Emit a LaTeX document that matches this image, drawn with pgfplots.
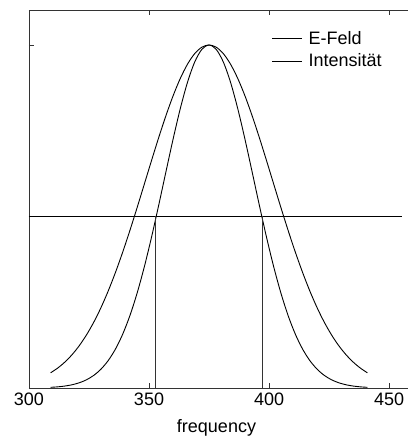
\documentclass[border=0pt]{standalone}
\usepackage{fontspec}
\setmainfont{Liberation Sans}
\usepackage{pgfplots}
\pgfplotsset{compat=1.18}
\begin{document}
\begin{tikzpicture}[x=1pt,y=1pt]
\begin{axis}[
  at={(0,0)}, anchor=origin,
  scale only axis, width=379pt, height=378pt,
  xmin=300, xmax=457.9, ymin=0, ymax=1.102,
  axis y line*=left,
  xtick={300,350,400,450}, ytick={0.5,1}, yticklabels={},
  xtick pos=both, ytick pos=left,
  tick align=inside, major tick length=5pt,
  axis line style={draw=black!80, line width=0.9pt, -},
  every tick/.style={black!80, line width=0.9pt},
  /pgf/number format/assume math mode=true,
  tick label style={font=\fontsize{18}{20}\selectfont},
  xticklabel style={yshift=-1pt},
  xlabel={frequency},
  label style={font=\fontsize{18}{20}\selectfont},
  xlabel style={yshift=-7pt, xshift=-2pt},
  legend style={draw=none, fill=none, at={(rel axis cs:0.632,0.955)}, anchor=north west,
    font=\fontsize{18}{20}\selectfont, row sep=4pt, column sep=4pt},
  legend cell align=left,
  legend image code/.code={\draw[#1] (0pt,0pt) -- (30pt,0pt);},
]
\addplot[black, line width=0.9pt, smooth] coordinates {
(309,0.04419)(312,0.05831)(315,0.07597)(318,0.09764)(321,0.12394)(324,0.15528)(327,0.19208)(330,0.23457)(333,0.28281)(336,0.33656)(339,0.39535)(342,0.45850)(345,0.52495)(348,0.59334)(351,0.66204)(354,0.72924)(357,0.79294)(360,0.85119)(363,0.90203)(366,0.94365)(369,0.97455)(372,0.99358)(375,1.00000)(378,0.99358)(381,0.97455)(384,0.94365)(387,0.90203)(390,0.85119)(393,0.79294)(396,0.72924)(399,0.66204)(402,0.59334)(405,0.52495)(408,0.45850)(411,0.39535)(414,0.33656)(417,0.28281)(420,0.23457)(423,0.19208)(426,0.15528)(429,0.12394)(432,0.09764)(435,0.07597)(438,0.05831)(441,0.04419)
};
\addlegendentry{E-Feld}
\addplot[black, line width=0.9pt, smooth] coordinates {
(309,0.00195)(312,0.00340)(315,0.00577)(318,0.00953)(321,0.01536)(324,0.02411)(327,0.03689)(330,0.05502)(333,0.07998)(336,0.11327)(339,0.15630)(342,0.21022)(345,0.27557)(348,0.35205)(351,0.43828)(354,0.53178)(357,0.62876)(360,0.72453)(363,0.81365)(366,0.89047)(369,0.94975)(372,0.98719)(375,1.00000)(378,0.98719)(381,0.94975)(384,0.89047)(387,0.81365)(390,0.72453)(393,0.62876)(396,0.53178)(399,0.43828)(402,0.35205)(405,0.27557)(408,0.21022)(411,0.15630)(414,0.11327)(417,0.07998)(420,0.05502)(423,0.03689)(426,0.02411)(429,0.01536)(432,0.00953)(435,0.00577)(438,0.00340)(441,0.00195)
};
\addlegendentry{Intensit\"at}
\addplot[black, line width=0.9pt, forget plot] coordinates {(300,0.5)(455.4,0.5)};
\addplot[black!80, line width=0.9pt, forget plot] coordinates {(352.8,0)(352.8,0.5)};
\addplot[black!80, line width=0.9pt, forget plot] coordinates {(397.2,0)(397.2,0.5)};
\end{axis}
\useasboundingbox (-29,-52) rectangle (379,388);
\end{tikzpicture}
\end{document}
